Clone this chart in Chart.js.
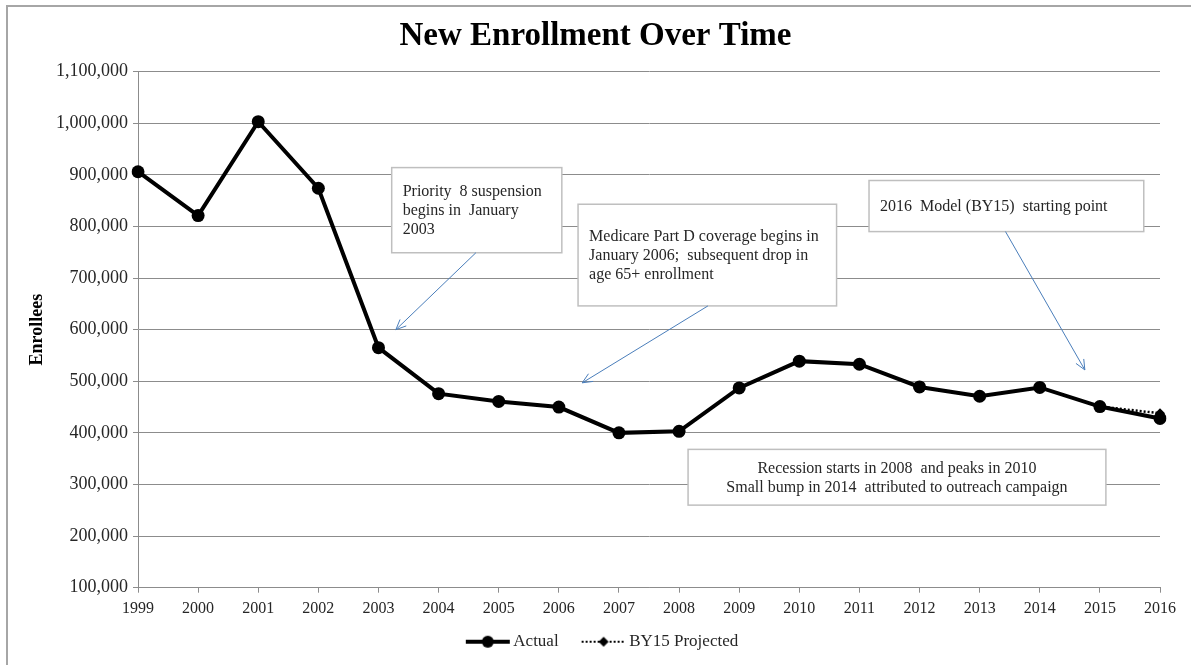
<!DOCTYPE html>
<html>
<head>
<meta charset="utf-8">
<script src="https://cdn.jsdelivr.net/npm/chart.js@4"></script>
<style>
  body { margin: 0; background: #fff; }
  #wrap { width: 1191px; height: 665px; }
</style>
</head>
<body>
<div id="wrap"><canvas id="myChart" width="1191" height="665"></canvas></div>
<script>
// values
const years = ['1999', '2000', '2001', '2002', '2003', '2004', '2005', '2006', '2007',
               '2008', '2009', '2010', '2011', '2012', '2013', '2014', '2015', '2016'];
const actual = [906000, 821000, 1003000, 874000, 565000, 476000, 461000, 450000, 400000,
                403000, 487000, 539000, 533000, 489000, 471000, 488000, 451000, 428000];
const projected = [null, null, null, null, null, null, null, null, null,
                   null, null, null, null, null, null, null, 451000, 438000];
const seriesNames = ['Actual', 'BY15 Projected'];
const yMin = 100000, yMax = 1100000, yStep = 100000;

// callouts, placed in data units (x = year index, y = enrollees)
const notes = [
  { text: ['Priority  8 suspension', 'begins in  January', '2003'],
    box: [4.22, 914000, 7.05, 749000], arrow: [5.62, 749000, 4.29, 600000], align: 'left' },
  { text: ['Medicare Part D coverage begins in', 'January 2006;  subsequent drop in', 'age 65+ enrollment'],
    box: [7.32, 843000, 11.62, 646000], arrow: [9.48, 646000, 7.39, 497000], align: 'left' },
  { text: ['2016  Model (BY15)  starting point'],
    box: [12.16, 889000, 16.73, 790000], arrow: [14.43, 790000, 15.75, 522000], align: 'left' },
  { text: ['Recession starts in 2008  and peaks in 2010', 'Small bump in 2014  attributed to outreach campaign'],
    box: [9.15, 368000, 16.10, 260000], arrow: null, align: 'center' }
];

Chart.defaults.font.family = "'Liberation Serif', 'Times New Roman', serif";
Chart.defaults.color = '#262626';

// legend swatch: line + marker, with empty room on the left to space the items
function makeIcon(kind) {
  const c = document.createElement('canvas');
  c.width = 64; c.height = 14;
  const g = c.getContext('2d');
  const x0 = 19, x1 = 63, xm = 41;
  g.strokeStyle = '#000';
  g.fillStyle = '#000';
  if (kind === 'actual') {
    g.lineWidth = 4;
    g.beginPath(); g.moveTo(x0, 7); g.lineTo(x1, 7); g.stroke();
    g.beginPath(); g.arc(xm, 7, 6, 0, Math.PI * 2); g.fill();
  } else {
    g.lineWidth = 2;
    g.setLineDash([2, 2]);
    g.beginPath(); g.moveTo(x0, 7); g.lineTo(x1, 7); g.stroke();
    g.beginPath(); g.moveTo(xm, 2); g.lineTo(xm + 5, 7); g.lineTo(xm, 12); g.lineTo(xm - 5, 7); g.closePath(); g.fill();
  }
  return c;
}
const legendIcons = [makeIcon('actual'), makeIcon('projected')];

function arrow(ctx, x1, y1, x2, y2) {
  ctx.beginPath(); ctx.moveTo(x1, y1); ctx.lineTo(x2, y2); ctx.stroke();
  const a = Math.atan2(y2 - y1, x2 - x1), L = 11, w = 0.42;
  ctx.beginPath();
  ctx.moveTo(x2 - L * Math.cos(a - w), y2 - L * Math.sin(a - w));
  ctx.lineTo(x2, y2);
  ctx.lineTo(x2 - L * Math.cos(a + w), y2 - L * Math.sin(a + w));
  ctx.stroke();
}

const framePlugin = {
  id: 'frame',
  beforeDraw(chart) {
    const ctx = chart.ctx;
    ctx.save();
    ctx.fillStyle = '#fff';
    ctx.fillRect(0, 0, chart.width, chart.height);
    ctx.strokeStyle = '#a6a6a6';
    ctx.lineWidth = 2;
    ctx.strokeRect(7, 6, chart.width + 10, chart.height + 10);
    ctx.restore();
  }
};

const notesPlugin = {
  id: 'notes',
  afterDatasetsDraw(chart) {
    const ctx = chart.ctx, xs = chart.scales.x, ys = chart.scales.y;
    ctx.save();
    notes.forEach(n => {
      const l = xs.getPixelForValue(n.box[0]), t = ys.getPixelForValue(n.box[1]);
      const r = xs.getPixelForValue(n.box[2]), b = ys.getPixelForValue(n.box[3]);
      ctx.fillStyle = '#fff';
      ctx.fillRect(l, t, r - l, b - t);
      ctx.strokeStyle = '#bfbfbf';
      ctx.lineWidth = 1.5;
      ctx.strokeRect(l, t, r - l, b - t);

      ctx.fillStyle = '#262626';
      ctx.font = "16px 'Liberation Serif', serif";
      ctx.textBaseline = 'middle';
      ctx.textAlign = n.align;
      const lh = 19;
      const mid = (t + b) / 2;
      const tx = n.align === 'left' ? l + 11 : (l + r) / 2;
      n.text.forEach((s, i) => {
        ctx.fillText(s, tx, mid + 1 + (i - (n.text.length - 1) / 2) * lh);
      });

      if (n.arrow) {
        ctx.strokeStyle = '#4a7ebb';
        ctx.lineWidth = 1;
        arrow(ctx, xs.getPixelForValue(n.arrow[0]), ys.getPixelForValue(n.arrow[1]),
                   xs.getPixelForValue(n.arrow[2]), ys.getPixelForValue(n.arrow[3]));
      }
    });
    ctx.restore();
  }
};

const ctx = document.getElementById('myChart');
new Chart(ctx, {
  type: 'line',
  data: {
    labels: years,
    datasets: [{
      label: seriesNames[0],
      data: actual,
      borderColor: '#000',
      backgroundColor: '#000',
      borderWidth: 4,
      pointRadius: 6.5,
      pointBorderWidth: 0,
      pointHoverRadius: 6.5,
      pointStyle: 'circle',
      tension: 0
    }, {
      label: seriesNames[1],
      data: projected,
      borderColor: '#000',
      backgroundColor: '#000',
      borderWidth: 2.5,
      borderDash: [2, 2],
      pointRadius: 5,
      pointBorderWidth: 0,
      pointStyle: 'rectRot',
      tension: 0
    }]
  },
  options: {
    responsive: false,
    animation: false,
    devicePixelRatio: 1,
    layout: { padding: { left: 0, right: 0, top: 0, bottom: 4.8 } },
    plugins: {
      title: {
        display: true,
        text: 'New Enrollment Over Time',
        color: '#000',
        font: { size: 33, weight: 'bold' },
        padding: { top: 17, bottom: 15 }
      },
      legend: {
        position: 'bottom',
        labels: {
          usePointStyle: true,
          pointStyleWidth: 52,
          padding: 10,
          font: { size: 17 },
          color: '#262626',
          generateLabels(chart) {
            const items = Chart.defaults.plugins.legend.labels.generateLabels(chart);
            items.forEach((it, i) => { it.pointStyle = legendIcons[i]; });
            return items;
          }
        }
      },
      tooltip: { enabled: false }
    },
    scales: {
      x: {
        offset: false,
        grid: { drawOnChartArea: false, drawTicks: true, tickLength: 5, color: '#8c8c8c' },
        border: { color: '#8c8c8c', width: 1 },
        ticks: { font: { size: 16 }, padding: 6, maxRotation: 0, autoSkip: false },
        afterFit(scale) { scale.height = 35.5; }
      },
      y: {
        min: yMin,
        max: yMax,
        grid: { color: '#8c8c8c', tickLength: 5 },
        border: { color: '#8c8c8c', width: 1 },
        ticks: {
          stepSize: yStep,
          font: { size: 18 },
          padding: 5,
          callback: v => v.toLocaleString('en-US')
        },
        title: {
          display: true,
          text: 'Enrollees',
          color: '#000',
          font: { size: 18, weight: 'bold' },
          padding: { top: 27, bottom: 0 }
        },
        afterFit(scale) { scale.width = 138; }
      },
      // empty right-hand strip so the plot stops short of the right edge
      side: {
        type: 'linear',
        position: 'right',
        grid: { display: false },
        border: { display: false },
        ticks: { display: false },
        afterFit(scale) { scale.width = 31; }
      }
    }
  },
  plugins: [framePlugin, notesPlugin]
});
</script>
</body>
</html>
